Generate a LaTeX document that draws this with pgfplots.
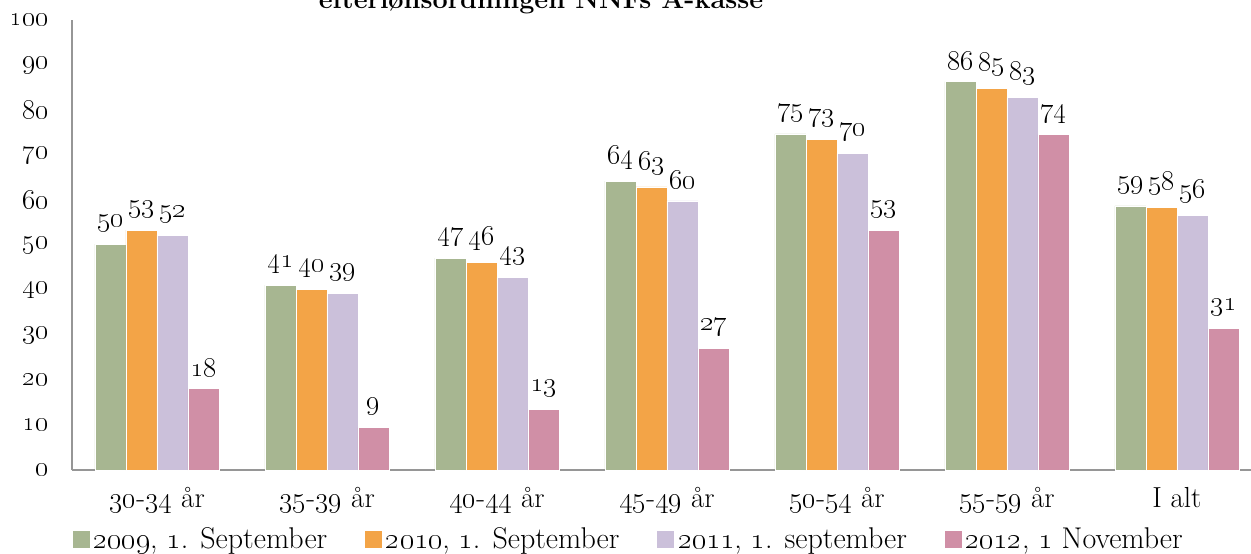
\documentclass[border=0pt]{standalone}
\usepackage{fix-cm}
\usepackage{pgfplots}
\pgfplotsset{compat=1.18}
\definecolor{cA}{HTML}{A7B691}
\definecolor{cB}{HTML}{F3A447}
\definecolor{cC}{HTML}{CBC0DA}
\definecolor{cD}{HTML}{D08FA6}
\definecolor{axgray}{RGB}{150,150,150}
\newcommand\osn[1]{\oldstylenums{#1}}
\pgfplotsset{sq/.style={legend image code/.code={\fill[##1] (0bp,-9bp) rectangle (18bp,9bp);}}}
\begin{document}
\begin{tikzpicture}
\begin{axis}[
  at={(0,0)}, anchor=south west,
  scale only axis, width=1190bp, height=450bp,
  xmin=-0.5, xmax=6.5, ymin=0, ymax=100,
  ybar=0pt, bar width=31bp,
  axis x line*=bottom, axis y line*=left,
  axis line style={draw=axgray, line width=2.5bp, -},
  major tick length=0pt,
  xtick={0,...,6},
  xticklabels={\osn{30}-\osn{34} år, \osn{35}-\osn{39} år, \osn{40}-\osn{44} år, \osn{45}-\osn{49} år, \osn{50}-\osn{54} år, \osn{55}-\osn{59} år, I alt},
  xticklabel style={anchor=base, yshift=-37bp, font=\fontsize{29bp}{34bp}\selectfont},
  ytick={0,10,...,100},
  yticklabels={\osn{0},\osn{10},\osn{20},\osn{30},\osn{40},\osn{50},\osn{60},\osn{70},\osn{80},\osn{90},\osn{100}},
  yticklabel style={anchor=east, inner sep=0pt, xshift=-24bp, font=\fontsize{27bp}{32bp}\selectfont},
  point meta=explicit symbolic,
  nodes near coords={\osn{\pgfplotspointmeta}},
  every node near coord/.append style={font=\fontsize{28bp}{32bp}\selectfont, inner sep=0pt, yshift=12bp},
  legend columns=4,
  legend style={draw=none, fill=none, at={(0,0)}, anchor=west, yshift=-69bp, inner sep=0pt,
    font=\fontsize{30bp}{34bp}\selectfont,
    /tikz/every even column/.append style={column sep=34bp},
    nodes={inner sep=3bp}},
]
\addplot[sq, fill=cA, draw=white, line width=0.6bp] coordinates {(0,50.2)[50] (1,41.1)[41] (2,47.1)[47] (3,64.2)[64] (4,74.7)[75] (5,86.3)[86] (6,58.7)[59]};
\addplot[sq, fill=cB, draw=white, line width=0.6bp] coordinates {(0,53.3)[53] (1,40.1)[40] (2,46.2)[46] (3,62.9)[63] (4,73.4)[73] (5,84.8)[85] (6,58.4)[58]};
\addplot[sq, fill=cC, draw=white, line width=0.6bp] coordinates {(0,52.2)[52] (1,39.2)[39] (2,42.8)[43] (3,59.8)[60] (4,70.3)[70] (5,82.8)[83] (6,56.6)[56]};
\addplot[sq, fill=cD, draw=white, line width=0.6bp] coordinates {(0,18.1)[18] (1,9.4)[9] (2,13.4)[13] (3,27.0)[27] (4,53.2)[53] (5,74.5)[74] (6,31.4)[31]};
\legend{\osn{2009}{,} \osn{1}. September, \osn{2010}{,} \osn{1}. September, \osn{2011}{,} \osn{1}. september, \osn{2012}{,} \osn{1} November}
\end{axis}
\node[font=\bfseries\fontsize{27bp}{32bp}\selectfont, anchor=base] at (469bp,461bp) {efterlønsordningen NNFs A-kasse};
\pgfresetboundingbox
\path[use as bounding box] (-72bp,-84bp) rectangle (1179bp,470bp);
\end{tikzpicture}
\end{document}
